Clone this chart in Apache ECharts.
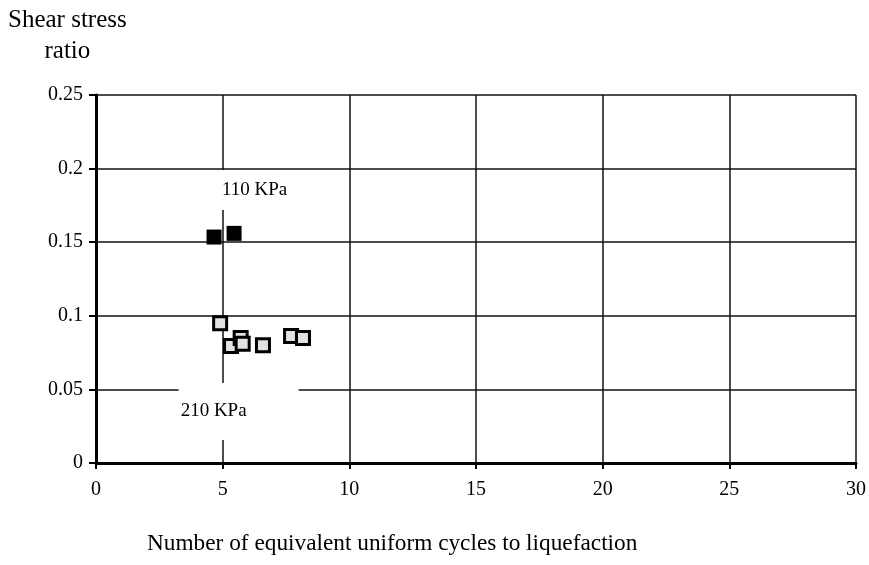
<!DOCTYPE html>
<html>
<head>
<meta charset="utf-8">
<script src="https://cdn.jsdelivr.net/npm/echarts@6/dist/echarts.min.js"></script>
<style>
  html, body { margin: 0; padding: 0; background: #fff; }
  #chart { width: 869px; height: 565px; }
</style>
</head>
<body>
<div id="chart"></div>
<script>
// 110 KPa confining pressure (filled squares)
var cycles110 = [4.66, 5.45]
var ratio110 = [0.1535, 0.156]

// 210 KPa confining pressure (open squares)
var cycles210 = [4.9, 5.33, 5.71, 5.79, 6.59, 7.7, 8.17]
var ratio210 = [0.095, 0.0795, 0.085, 0.081, 0.080, 0.0863, 0.085]

// group labels, placed in data units
var groupNames = ['110 KPa', '210 KPa']
var groupLabelX = [6.28, 5.63]
var groupLabelY = [0.1855, 0.035]

var xTicks = [0, 5, 10, 15, 20, 25, 30]
var yTicks = [0, 0.05, 0.1, 0.15, 0.2, 0.25]

function pairs (xs, ys) {
    return xs.map(function (x, i) { return [x, ys[i]] })
}

var font = '"Liberation Serif", "Times New Roman", serif'

var chart = echarts.init(document.getElementById('chart'))
chart.setOption({
    animation: false,
    textStyle: { fontFamily: font, color: '#000' },
    grid: { left: 96, right: 13, top: 95, bottom: 102 },
    xAxis: {
        type: 'value',
        min: xTicks[0],
        max: xTicks[xTicks.length - 1],
        interval: 5,
        axisLine: { lineStyle: { color: '#000', width: 3 } },
        axisTick: { show: true, length: 6, lineStyle: { color: '#000', width: 2 } },
        axisLabel: { fontFamily: font, fontSize: 20, color: '#000', margin: 17 },
        splitLine: { show: true, lineStyle: { color: '#111', width: 1.5 } }
    },
    yAxis: {
        type: 'value',
        min: yTicks[0],
        max: yTicks[yTicks.length - 1],
        interval: 0.05,
        axisLine: { show: true, lineStyle: { color: '#000', width: 3 } },
        axisTick: { show: true, length: 7, lineStyle: { color: '#000', width: 2 } },
        axisLabel: { fontFamily: font, fontSize: 20, color: '#000', margin: 13 },
        splitLine: { show: true, lineStyle: { color: '#111', width: 1.5 } }
    },
    graphic: [
        {
            type: 'text',
            left: 8,
            top: 5,
            style: {
                text: 'Shear stress\nratio',
                font: '25px ' + font,
                fill: '#000',
                textAlign: 'center',
                lineHeight: 31
            }
        },
        {
            type: 'text',
            left: 147,
            top: 532,
            style: {
                text: 'Number of equivalent uniform cycles to liquefaction',
                font: '23.3px ' + font,
                fill: '#000'
            }
        }
    ],
    series: [
        {
            name: 'labels',
            type: 'scatter',
            z: 1,
            symbolSize: 0,
            silent: true,
            itemStyle: { opacity: 1 },
            data: pairs(groupLabelX, groupLabelY).map(function (p, i) {
                return {
                    value: p,
                    label: {
                        show: true,
                        position: 'inside',
                        formatter: groupNames[i],
                        fontFamily: font,
                        fontSize: 19,
                        color: '#000',
                        backgroundColor: '#fff',
                        padding: i === 0 ? [8, 7, 13, 6] : [10, 52, 28, 2]
                    }
                }
            })
        },
        {
            name: '110 KPa',
            type: 'scatter',
            z: 3,
            symbol: 'rect',
            symbolSize: 15,
            itemStyle: { color: '#000', opacity: 1 },
            data: pairs(cycles110, ratio110)
        },
        {
            name: '210 KPa',
            type: 'scatter',
            z: 3,
            symbol: 'rect',
            symbolSize: 13,
            itemStyle: { color: '#e2e2e2', borderColor: '#000', borderWidth: 3, opacity: 1 },
            data: pairs(cycles210, ratio210)
        }
    ]
})
</script>
</body>
</html>
